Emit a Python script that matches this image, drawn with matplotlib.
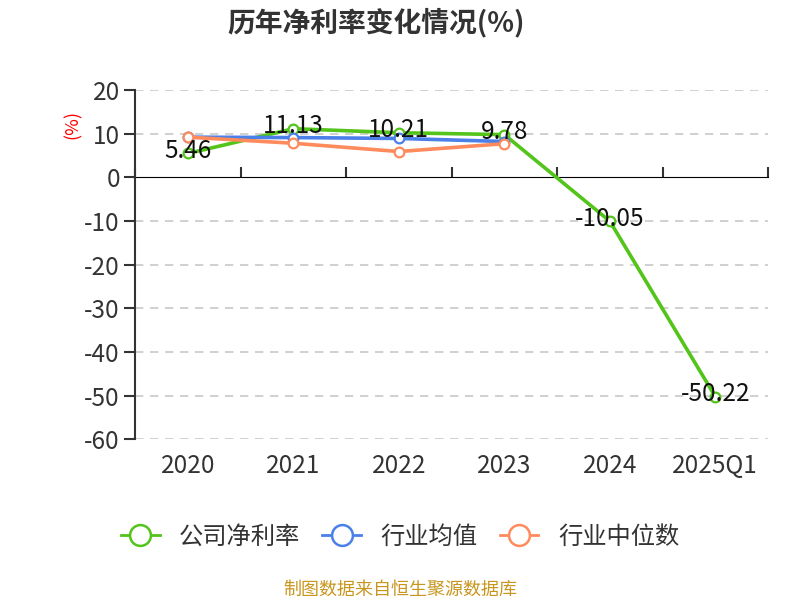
import matplotlib
matplotlib.use('Agg')
import matplotlib.pyplot as plt
from matplotlib.lines import Line2D
import numpy as np

plt.rcParams['font.family'] = ['Noto Sans CJK SC', 'DejaVu Sans']
plt.rcParams['axes.unicode_minus'] = False

# 数据
years = ['2020', '2021', '2022', '2023', '2024', '2025Q1']
company = [5.46, 11.13, 10.21, 9.78, -10.05, -50.22]
ind_avg = [9.2, 9.1, 8.9, 8.2]
ind_median = [9.2, 7.8, 5.9, 7.7]
names = ['公司净利率', '行业均值', '行业中位数']

c_green = '#52c41a'
c_blue = '#4a80e8'
c_orange = '#ff8a5c'

fig = plt.figure(figsize=(8, 6), dpi=100)
ax = fig.add_axes([0.169, 0.268, 0.791, 0.582])

x = np.arange(len(years))
mk = dict(marker='o', markersize=7, markerfacecolor='white', markeredgewidth=1.6)
ax.plot(x, company, color=c_green, lw=2.6, zorder=3, **mk)
ax.plot(x[:4], ind_avg, color=c_blue, lw=2.6, zorder=4, **mk)
ax.plot(x[:4], ind_median, color=c_orange, lw=2.6, zorder=5, **mk)

for i, v in enumerate(company):
    ax.text(x[i], v + 0.6, '%.2f' % v, ha='center', va='center', fontsize=17.5,
            color='#111111', zorder=6)

ax.set_xlim(-0.5, len(years) - 0.5)
ax.set_ylim(-60, 20)
ax.set_yticks(np.arange(-60, 21, 10))
ax.set_xticks(x)
ax.set_xticklabels(years)
ax.tick_params(axis='x', length=0, labelsize=17.5, colors='#333333', pad=10)
ax.tick_params(axis='y', length=8, width=1.5, labelsize=17.5, colors='#333333',
               direction='out', pad=3)

for yv in np.arange(-60, 21, 10):
    if yv != 0:
        ax.axhline(yv, color='#c8c8c8', lw=1.2, ls=(0, (5, 4)), zorder=1)

for s in ['top', 'right', 'bottom']:
    ax.spines[s].set_visible(False)
ax.spines['left'].set_color('#333333')
ax.spines['left'].set_linewidth(1.5)

# 零轴
sec = ax.secondary_xaxis(0.75)
sec.set_xticks(np.arange(-0.5, len(years), 1.0))
sec.set_xticklabels([])
sec.tick_params(axis='x', length=7, width=1.5, color='#333333', direction='out')
sec.spines['bottom'].set_color('#333333')
sec.spines['bottom'].set_linewidth(1.5)

fig.text(0.47, 0.962, '历年净利率变化情况(%)', ha='center', va='center',
         fontsize=20, fontweight='bold', color='#333333')
fig.text(0.091, 0.792, '(%)', ha='center', va='center', rotation=90,
         fontsize=13, color='red')

handles = [Line2D([], [], color=c, lw=2, marker='o', markersize=15,
                  markerfacecolor='white', markeredgewidth=1.8)
           for c in [c_green, c_blue, c_orange]]
leg = fig.legend(handles, names, loc='center', bbox_to_anchor=(0.5, 0.105), ncol=3,
                 frameon=False, fontsize=17.5, handlelength=1.6, columnspacing=0.9,
                 handletextpad=0.8)
for t in leg.get_texts():
    t.set_color('#333333')

fig.text(0.5, 0.018, '制图数据来自恒生聚源数据库', ha='center', va='center',
         fontsize=13, color='#c8961e')

fig.savefig('out.png', dpi=100)
